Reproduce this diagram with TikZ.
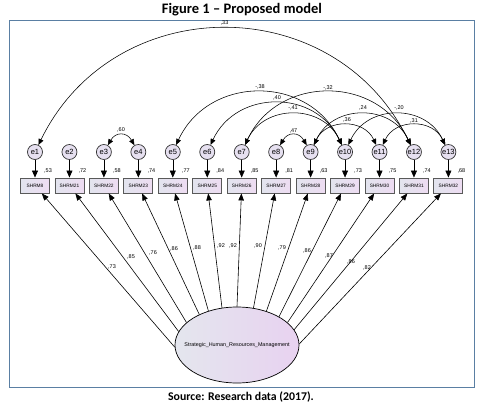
\documentclass[tikz,border=0pt]{standalone}
\usepackage{fontspec}
\setmainfont{Carlito}
\newfontfamily\arialf{Liberation Sans}
\usetikzlibrary{arrows.meta,shapes.geometric}
\definecolor{framec}{HTML}{5A7FA3}
\definecolor{evfill}{HTML}{E6E0F0}
\definecolor{boxl}{HTML}{E2E4EE}
\definecolor{boxr}{HTML}{EEDCF2}
\definecolor{elll}{HTML}{E4E6EE}
\definecolor{ellr}{HTML}{E8D2F0}
\tikzset{
  evar/.style={circle, draw=black!80, line width=0.7pt, fill=evfill, minimum size=15pt, inner sep=0pt, font=\arialf\fontsize{7.5}{8}\selectfont},
  obs/.style={rectangle, draw=black!65, line width=0.9pt, left color=boxl, right color=boxr, minimum width=29pt, minimum height=15pt, inner sep=0pt, font=\arialf\fontsize{4.8}{5}\selectfont},
  lat/.style={ellipse, draw=black, line width=0.7pt, left color=elll, right color=ellr, minimum width=124pt, minimum height=76pt, inner sep=0pt},
  lattext/.style={inner sep=0pt, font=\arialf\fontsize{5.4}{6}\selectfont},
  num/.style={font=\arialf\fontsize{5.5}{6}\selectfont, inner sep=0pt},
  sarrow/.style={-{Triangle[length=7pt,width=6pt]}, line width=0.6pt},
  larrow/.style={-{Triangle[length=7pt,width=5.5pt]}, line width=0.6pt},
  cov/.style={{Triangle[length=6pt,width=5pt]}-{Triangle[length=6pt,width=5pt]}, line width=0.55pt},
}
\begin{document}
\begin{tikzpicture}[x=1pt,y=-1pt]
\useasboundingbox (0,0) rectangle (484,409);
\draw[framec, line width=0.9pt] (9,20) rectangle (474,387);
\node[font=\bfseries\fontsize{14.5}{16}\selectfont] (title) at (242,10) {Figure 1 – Proposed model};
\node[font=\bfseries\fontsize{11.8}{13}\selectfont] (source) at (241,397) {Source: Research data (2017).};

% error variables and observed boxes
\foreach \i/\lab/\v in {1/SHRM8/{,53}, 2/SHRM21/{,72}, 3/SHRM22/{,58}, 4/SHRM23/{,74}, 5/SHRM24/{,77}, 6/SHRM25/{,84}, 7/SHRM26/{,85}, 8/SHRM27/{,81}, 9/SHRM28/{,63}, 10/SHRM29/{,73}, 11/SHRM30/{,75}, 12/SHRM31/{,74}, 13/SHRM32/{,68}}{
  \pgfmathsetmacro{\xx}{35+34.45*(\i-1)}
  \node[evar] (e\i) at (\xx,152) {e\i};
  \node[obs] (b\i) at (\xx,185.5) {\lab};
  \node[num] (v\i) at (\xx+13,171) {\v};
  \draw[sarrow] (e\i) -- (b\i);
}

% latent variable
\node[lat] (ell) at (237,345) {};
\node[lattext] (elltext) at (ell.center) {Strategic\_Human\_Resources\_Management};

% loadings
\foreach \i/\a in {1/182.8, 2/167.4, 3/156, 4/141, 5/130, 6/112, 7/90, 8/66.6, 9/49.7, 10/34.3, 11/24.7, 12/15, 13/1.8}{
  \draw[larrow] (ell.\a) -- (b\i);
}
\foreach \i/\px/\py/\t in {1/112/267/{,73}, 2/131/257/{,85}, 3/153/253/{,76}, 4/174/249/{,86}, 5/197/248/{,88}, 6/221/246/{,92}, 7/233/246/{,92}, 8/258/246/{,90}, 9/282/248/{,79}, 10/307/251/{,86}, 11/329/256/{,87}, 12/351/262/{,86}, 13/367/268/{,82}}{
  \node[num] (l\i) at (\px,\py) {\t};
}

% covariances
\draw[cov] (e1) to[out=64,in=116,looseness=1.19] (e12);
\draw[cov] (e3) to[out=60,in=120,looseness=1.5] (e4);
\draw[cov] (e8) to[out=60,in=120,looseness=1.5] (e9);
\draw[cov] (e5) to[out=65,in=115,looseness=1.2] (e10);
\draw[cov] (e6) to[out=65,in=115,looseness=1.2] (e10);
\draw[cov] (e7) to[out=65,in=115,looseness=1.2] (e10);
\draw[cov] (e7) to[out=65,in=115,looseness=1.2] (e12);
\draw[cov] (e9) to[out=65,in=115,looseness=1.2] (e12);
\draw[cov] (e10) to[out=65,in=115,looseness=1.2] (e13);
\draw[cov] (e9) to[out=65,in=115,looseness=1.2] (e11);
\draw[cov] (e11) to[out=65,in=115,looseness=1.2] (e13);

\node[num] (c1) at (224.5,23) {,33};
\node[num] (c2) at (121,130) {,60};
\node[num] (c3) at (293.4,131) {,47};
\node[num] (c4) at (260,87) {-,38};
\node[num] (c5) at (277,98) {,40};
\node[num] (c6) at (293,108) {-,41};
\node[num] (c7) at (328,88) {-,32};
\node[num] (c8) at (363,108) {,24};
\node[num] (c9) at (399,108) {-,20};
\node[num] (c10) at (347,120) {,36};
\node[num] (c11) at (414,121) {,31};
\end{tikzpicture}
\end{document}
